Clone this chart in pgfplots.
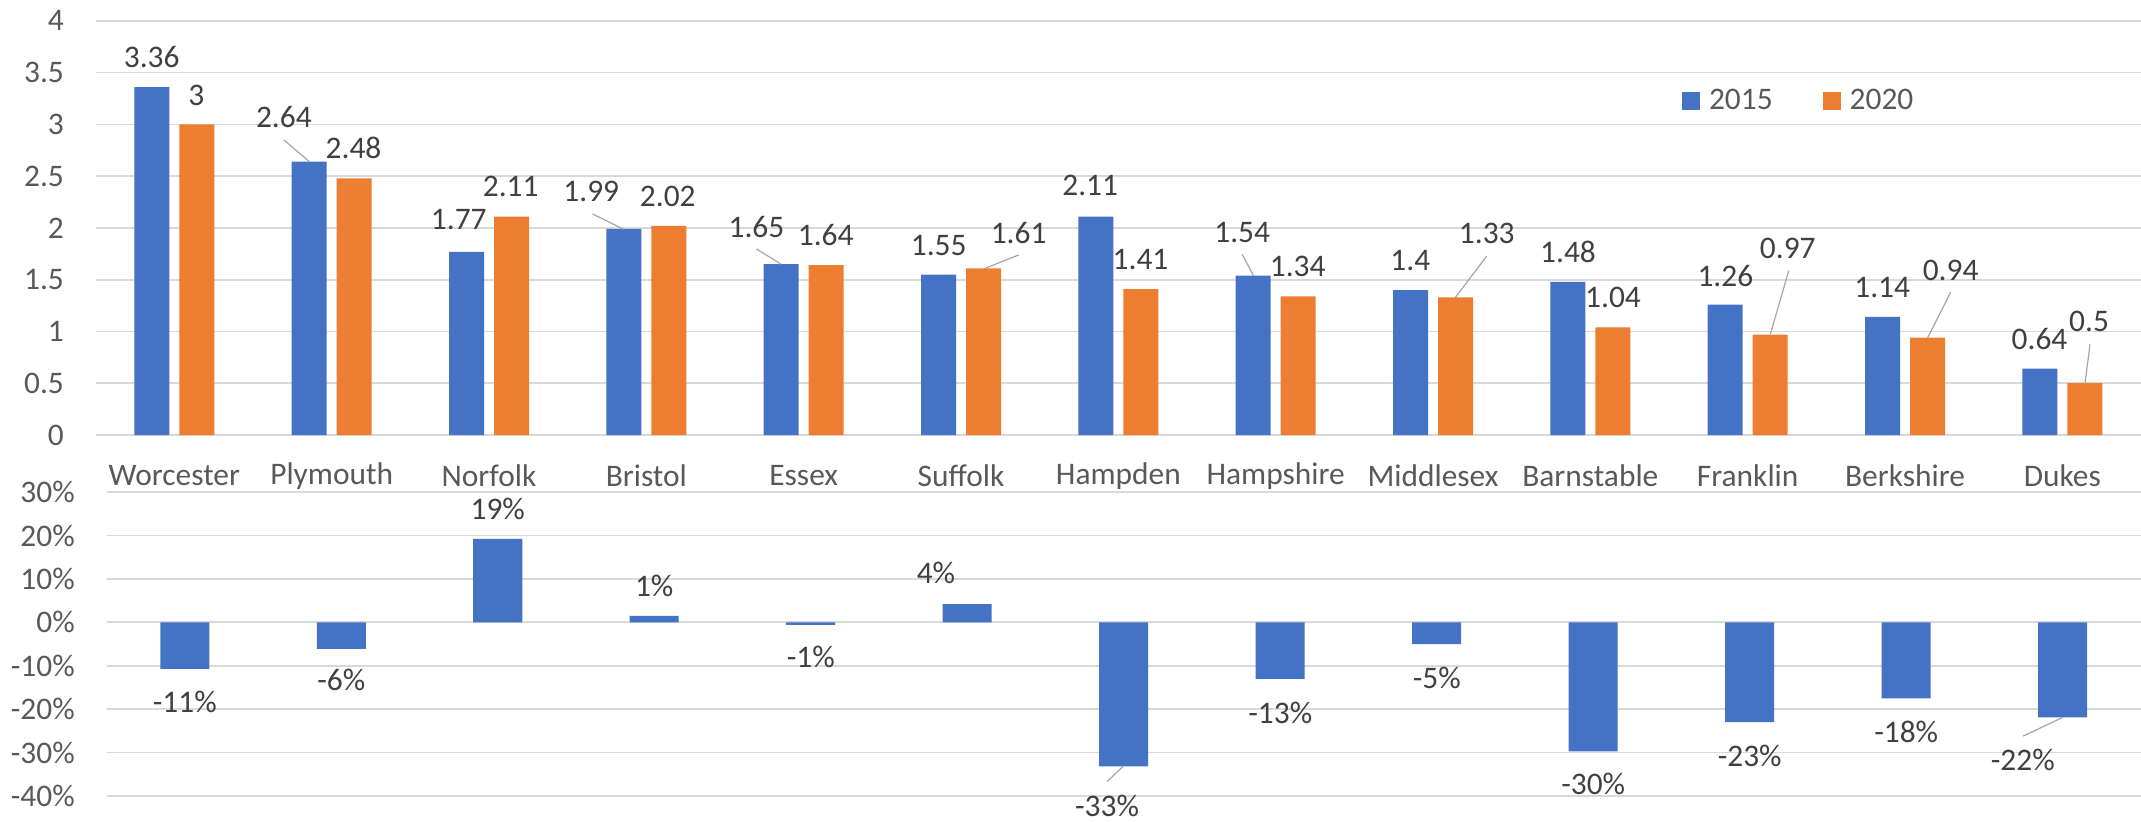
\documentclass[border=0pt]{standalone}
\usepackage{fontspec}
\setmainfont{Carlito}
\usepackage{pgfplots}
\pgfplotsset{compat=1.18}
\definecolor{xblue}{HTML}{4472C4}
\definecolor{xorange}{HTML}{ED7D31}
\definecolor{gridc}{HTML}{D9D9D9}
\definecolor{tickc}{HTML}{595959}
\definecolor{lblc}{HTML}{404040}
\definecolor{leadc}{HTML}{A6A6A6}
\begin{document}
\begin{tikzpicture}[font=\fontsize{15.7}{18.8}\selectfont,
  lbl/.style={text=lblc, inner sep=0pt, anchor=center},
  leader/.style={draw=leadc, line width=0.6pt}]
\path[use as bounding box] (0,0) rectangle (1070.5pt,410.5pt);
\pgfplotsset{common/.style={scale only axis, clip=false,
  axis line style={draw=none}, major tick length=0pt,
  xtick style={draw=none}, ytick style={draw=none},
  ymajorgrids, major grid style={draw=gridc, line width=0.8pt},
  tick label style={text=tickc},
  xmin=-0.5, xmax=12.5,
  yticklabel style={inner sep=0pt, anchor=east, xshift=-15.7pt}}}
% ---------- top chart ----------
\begin{axis}[common, at={(47.85pt,193pt)}, anchor=south west,
  width=1022.65pt, height=207.05pt,
  ymin=0, ymax=4,
  ytick={0,0.5,1,1.5,2,2.5,3,3.5,4},
  yticklabels={0,0.5,1,1.5,2,2.5,3,3.5,4},
  xtick={0,1,2,3,4,5,6,7,8,9,10,11,12},
  xticklabels={Worcester,Plymouth,Norfolk,Bristol,Essex,Suffolk,Hampden,Hampshire,Middlesex,Barnstable,Franklin,Berkshire,Dukes},
  xticklabel style={anchor=center, inner sep=0pt, yshift=-20.5pt},
  ybar=5pt, bar width=17.5pt,
  legend columns=2,
  legend image code/.code={\fill[#1] (0pt,-4.5pt) rectangle (9pt,4.5pt);},
  legend style={at={(0.7756,0.8066)}, anchor=west, draw=none, fill=none,
    inner sep=0pt, outer sep=0pt, column sep=4.5pt,
    nodes={inner sep=0pt, anchor=west, text=tickc},
    /tikz/every even column/.append style={column sep=25pt}}]
\addplot[fill=xblue, draw=none] coordinates {
  (0,3.36) (1,2.64) (2,1.77) (3,1.99) (4,1.65) (5,1.55) (6,2.11)
  (7,1.54) (8,1.40) (9,1.48) (10,1.26) (11,1.14) (12,0.64)};
\addplot[fill=xorange, draw=none] coordinates {
  (0,3.00) (1,2.48) (2,2.11) (3,2.02) (4,1.64) (5,1.61) (6,1.41)
  (7,1.34) (8,1.33) (9,1.04) (10,0.97) (11,0.94) (12,0.50)};
\legend{2015,2020}
% data labels
\node[lbl] at (axis cs:-0.144,3.649) {3.36};
\node[lbl] at (axis cs:0.140,3.285) {3};
\node[lbl] at (axis cs:0.696,3.070) {2.64};
\draw[leader] (axis cs:0.696,2.850) -- (axis cs:0.858,2.641);
\node[lbl] at (axis cs:1.139,2.770) {2.48};
\node[lbl] at (axis cs:1.808,2.077) {1.77};
\node[lbl] at (axis cs:2.138,2.399) {2.11};
\node[lbl] at (axis cs:2.650,2.351) {1.99};
\draw[leader] (axis cs:2.659,2.135) -- (axis cs:2.856,1.987);
\node[lbl] at (axis cs:3.136,2.309) {2.02};
\node[lbl] at (axis cs:3.700,2.013) {1.65};
\draw[leader] (axis cs:3.700,1.797) -- (axis cs:3.858,1.649);
\node[lbl] at (axis cs:4.140,1.932) {1.64};
\node[lbl] at (axis cs:4.858,1.829) {1.55};
\node[lbl] at (axis cs:5.366,1.949) {1.61};
\draw[leader] (axis cs:5.366,1.739) -- (axis cs:5.143,1.604);
\node[lbl] at (axis cs:5.821,2.406) {2.11};
\node[lbl] at (axis cs:6.141,1.691) {1.41};
\node[lbl] at (axis cs:6.787,1.958) {1.54};
\draw[leader] (axis cs:6.787,1.746) -- (axis cs:6.859,1.539);
\node[lbl] at (axis cs:7.140,1.626) {1.34};
\node[lbl] at (axis cs:7.856,1.684) {1.4};
\node[lbl] at (axis cs:8.342,1.949) {1.33};
\draw[leader] (axis cs:8.342,1.729) -- (axis cs:8.141,1.327);
\node[lbl] at (axis cs:8.858,1.765) {1.48};
\node[lbl] at (axis cs:9.144,1.330) {1.04};
\node[lbl] at (axis cs:9.858,1.539) {1.26};
\node[lbl] at (axis cs:10.255,1.804) {0.97};
\draw[leader] (axis cs:10.261,1.587) -- (axis cs:10.144,0.973);
\node[lbl] at (axis cs:10.855,1.427) {1.14};
\node[lbl] at (axis cs:11.290,1.587) {0.94};
\draw[leader] (axis cs:11.290,1.379) -- (axis cs:11.144,0.940);
\node[lbl] at (axis cs:11.855,0.925) {0.64};
\node[lbl] at (axis cs:12.170,1.095) {0.5};
\draw[leader] (axis cs:12.176,0.876) -- (axis cs:12.144,0.500);
\end{axis}
% ---------- bottom chart ----------
\begin{axis}[common, at={(53.25pt,12.5pt)}, anchor=south west,
  width=1017.25pt, height=152pt,
  ymin=-40, ymax=30,
  ytick={-40,-30,-20,-10,0,10,20,30},
  yticklabels={-40\%,-30\%,-20\%,-10\%,0\%,10\%,20\%,30\%},
  xtick=\empty,
  ybar, bar width=24.5pt]
\addplot[fill=xblue, draw=none] coordinates {
  (0,-10.7) (1,-6.1) (2,19.2) (3,1.5) (4,-0.6) (5,4.2) (6,-33.2)
  (7,-13.0) (8,-5.0) (9,-29.7) (10,-23.0) (11,-17.5) (12,-21.9)};
\node[lbl] at (axis cs:0,-18.27) {-11\%};
\node[lbl] at (axis cs:1,-13.29) {-6\%};
\node[lbl] at (axis cs:2,26.2) {19\%};
\node[lbl] at (axis cs:3,8.36) {1\%};
\node[lbl] at (axis cs:4,-7.9) {-1\%};
\node[lbl] at (axis cs:4.80,11.29) {4\%};
\node[lbl] at (axis cs:5.893,-42.17) {-33\%};
\draw[leader] (axis cs:5.995,-33.2) -- (axis cs:5.893,-36.7);
\node[lbl] at (axis cs:7,-20.8) {-13\%};
\node[lbl] at (axis cs:8,-12.74) {-5\%};
\node[lbl] at (axis cs:9,-37.33) {-30\%};
\node[lbl] at (axis cs:10,-30.8) {-23\%};
\node[lbl] at (axis cs:11,-25.28) {-18\%};
\node[lbl] at (axis cs:11.745,-31.73) {-22\%};
\draw[leader] (axis cs:12.0,-21.9) -- (axis cs:11.747,-26.2);
\end{axis}
\end{tikzpicture}
\end{document}
